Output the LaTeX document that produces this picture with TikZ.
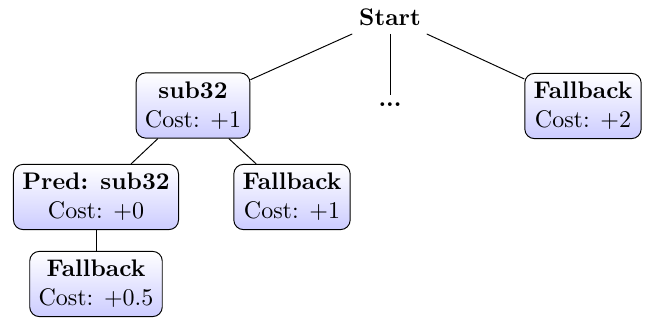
\documentclass[tikz,border=0pt]{standalone}
\usetikzlibrary{shadings}
\begin{document}
\begin{tikzpicture}[x=0.4167pt,y=-0.4167pt,
  costbox/.style={draw=black, rounded corners=4pt, top color=white, bottom color=blue!20, align=center, inner sep=3.7pt},
  plain/.style={align=center, inner sep=3.33pt},
  edge/.style={draw=black, line width=0.4pt}]
\useasboundingbox (0,0) rectangle (654,323);
\node[plain] (start) at (390,17) {\textbf{Start}};
\node[costbox] (sub) at (193,105.5) {\textbf{sub32}\\Cost: $+1$};
\node[plain] (dots) at (390,105) {\textbf{...}};
\node[costbox] (fb2) at (583,106) {\textbf{Fallback}\\Cost: $+2$};
\node[costbox] (pred) at (96,197) {\textbf{Pred: sub32}\\Cost: $+0$};
\node[costbox] (fb1) at (292,197) {\textbf{Fallback}\\Cost: $+1$};
\node[costbox] (fb05) at (96,284) {\textbf{Fallback}\\Cost: $+0.5$};
\draw[edge] (start) -- (sub);
\draw[edge] (start) -- (dots);
\draw[edge] (start) -- (fb2);
\draw[edge] (sub) -- (pred);
\draw[edge] (sub) -- (fb1);
\draw[edge] (pred) -- (fb05);
\end{tikzpicture}
\end{document}
